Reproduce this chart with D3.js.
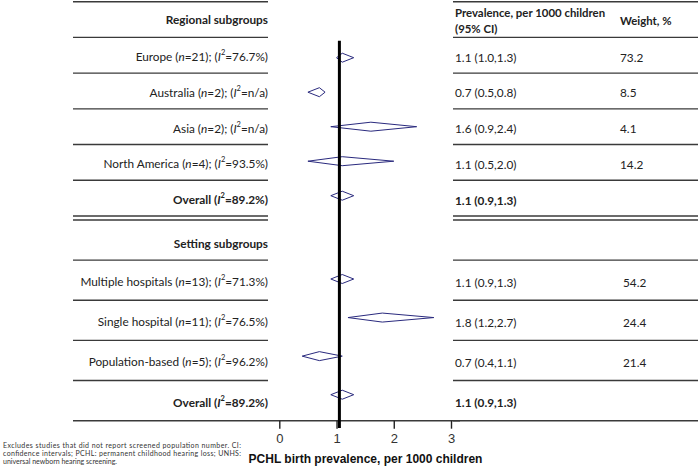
<!DOCTYPE html>
<html><head><meta charset="utf-8">
<script src="https://cdn.jsdelivr.net/npm/d3@7"></script>
<style>
html,body{margin:0;padding:0;background:#fff;}
svg{display:block;}
</style></head>
<body>
<script>
// ---- data ----
const regionalLabels = ["Europe", "Australia", "Asia", "North America"];
const regionalN = [21, 2, 2, 4];
const regionalI2 = ["76.7%", "n/a", "n/a", "93.5%"];
const regionalEst = [1.1, 0.7, 1.6, 1.1];
const regionalLo = [1.0, 0.5, 0.9, 0.5];
const regionalHi = [1.3, 0.8, 2.4, 2.0];
const regionalWeight = ["73.2", "8.5", "4.1", "14.2"];
const regionalOverall = {i2: "89.2%", est: 1.1, lo: 0.9, hi: 1.3};

const settingLabels = ["Multiple hospitals", "Single hospital", "Population-based"];
const settingN = [13, 11, 5];
const settingI2 = ["71.3%", "76.5%", "96.2%"];
const settingEst = [1.1, 1.8, 0.7];
const settingLo = [0.9, 1.2, 0.4];
const settingHi = [1.3, 2.7, 1.1];
const settingWeight = ["54.2", "24.4", "21.4"];
const settingOverall = {i2: "89.2%", est: 1.1, lo: 0.9, hi: 1.3};

const pooledLine = 1.05;
const xTicks = [0, 1, 2, 3];
const xTitle = "PCHL birth prevalence, per 1000 children";
const footnote = [
  "Excludes studies that did not report screened population number. CI:",
  "confidence intervals; PCHL: permanent childhood hearing loss; UNHS:",
  "universal newborn hearing screening."
];

// ---- layout ----
const W = 700, H = 470;
const svg = d3.select("body").append("svg").attr("width", W).attr("height", H);
const TF = "Lato, 'Open Sans', sans-serif";
const AF = "'Liberation Sans', Arial, sans-serif";
const FS = 11.8;
const lineCol = "#3a3a3a";
const textCol = "#222";
const diaCol = "#2a2a7e";

const leftX0 = 73, leftX1 = 268, rightX0 = 453, rightX1 = 698;
const colCI = 455, colW = 620;

const x = d3.scaleLinear().domain([0, 3]).range([279.3, 451]);

function buildGroup(labels, n, i2, est, lo, hi, w, overall) {
  const rows = labels.map((l, i) => ({key: l, label: l, n: n[i], i2: i2[i], est: est[i], lo: lo[i], hi: hi[i], w: w[i], type: "row"}));
  rows.push({key: "overall", i2: overall.i2, est: overall.est, lo: overall.lo, hi: overall.hi, w: "", type: "overall"});
  return rows;
}
const groups = [
  {title: "Regional subgroups", rows: buildGroup(regionalLabels, regionalN, regionalI2, regionalEst, regionalLo, regionalHi, regionalWeight, regionalOverall),
   bandRange: [1.7, 216], diaRange: [57.7, 195.7], showHeaderRight: true},
  {title: "Setting subgroups", rows: buildGroup(settingLabels, settingN, settingI2, settingEst, settingLo, settingHi, settingWeight, settingOverall),
   bandRange: [220, 420.7], diaRange: [279, 394.7], showHeaderRight: false}
];

function hline(y, x0, x1) {
  svg.append("line").attr("x1", x0).attr("x2", x1).attr("y1", y).attr("y2", y)
    .attr("stroke", lineCol).attr("stroke-width", 1.4);
}

function labelText(g, d, yy) {
  const t = g.append("text").attr("x", leftX1).attr("y", yy).attr("text-anchor", "end")
    .attr("dominant-baseline", "central").attr("font-family", TF).attr("font-size", FS).attr("fill", textCol);
  if (d.type === "row") {
    t.append("tspan").text(d.label + " (");
    t.append("tspan").attr("font-style", "italic").text("n");
    t.append("tspan").text("=" + d.n + "); (");
  } else {
    t.attr("font-weight", "bold");
    t.append("tspan").text("Overall (");
  }
  t.append("tspan").attr("font-style", "italic").text("I");
  t.append("tspan").attr("font-size", 7.5).attr("dy", -4).text("2");
  t.append("tspan").attr("dy", 4).text("=" + d.i2 + ")");
}

groups.forEach((grp, gi) => {
  const keys = ["header"].concat(grp.rows.map(r => r.key));
  const band = d3.scaleBand().domain(keys).range(grp.bandRange);
  const dia = d3.scalePoint().domain(grp.rows.map(r => r.key)).range(grp.diaRange);
  const g = svg.append("g");

  keys.forEach(k => {
    hline(band(k), leftX0, leftX1);
    hline(band(k), rightX0, rightX1);
  });
  hline(grp.bandRange[1], leftX0, leftX1);
  hline(grp.bandRange[1], rightX0, rightX1);

  g.append("text").attr("x", leftX1).attr("y", band("header") + band.bandwidth() / 2 + (gi === 1 ? 3 : 0))
    .attr("text-anchor", "end").attr("dominant-baseline", "central")
    .attr("font-family", TF).attr("font-size", FS).attr("font-weight", "bold").attr("fill", textCol)
    .text(grp.title);
  if (grp.showHeaderRight) {
    const hy = band("header") + band.bandwidth() / 2;
    g.append("text").attr("x", colCI).attr("y", hy - 7).attr("dominant-baseline", "central")
      .attr("font-family", TF).attr("font-size", 11.4).attr("font-weight", "bold").attr("fill", textCol)
      .text("Prevalence, per 1000 children");
    g.append("text").attr("x", colCI).attr("y", hy + 9).attr("dominant-baseline", "central")
      .attr("font-family", TF).attr("font-size", 11.4).attr("font-weight", "bold").attr("fill", textCol)
      .text("(95% CI)");
    g.append("text").attr("x", colW).attr("y", hy + 1).attr("dominant-baseline", "central")
      .attr("font-family", TF).attr("font-size", 11.4).attr("font-weight", "bold").attr("fill", textCol)
      .text("Weight, %");
  }

  grp.rows.forEach(d => {
    const yy = band(d.key) + band.bandwidth() / 2 + 1;
    labelText(g, d, yy);
    g.append("text").attr("x", colCI).attr("y", yy + 1).attr("dominant-baseline", "central")
      .attr("font-family", TF).attr("font-size", FS).attr("fill", textCol)
      .attr("font-weight", d.type === "overall" ? "bold" : null)
      .text(d3.format(".1f")(d.est) + " (" + d3.format(".1f")(d.lo) + "," + d3.format(".1f")(d.hi) + ")");
    if (d.w) {
      g.append("text").attr("x", colW + (gi === 1 ? 3 : 0)).attr("y", yy + 1).attr("dominant-baseline", "central")
        .attr("font-family", TF).attr("font-size", FS).attr("fill", textCol).text(d.w);
    }
  });

  const hh = 4.5;
  g.selectAll("path.dia").data(grp.rows).enter().append("path")
    .attr("d", d => {
      const cy = dia(d.key);
      return `M${x(d.lo)},${cy}L${x(d.est)},${cy - hh}L${x(d.hi)},${cy}L${x(d.est)},${cy + hh}Z`;
    })
    .attr("fill", "none").attr("stroke", diaCol).attr("stroke-width", 1);
});

// axis
const axisY = 420.7;
const ax = svg.append("g").attr("transform", `translate(0,${axisY})`)
  .call(d3.axisBottom(x).tickValues(xTicks).tickFormat(d3.format("d")).tickSize(8).tickSizeOuter(0));
ax.select(".domain").attr("stroke", lineCol).attr("stroke-width", 1.4)
  .attr("d", `M${leftX1},0H${rightX0 + 7}`);
ax.selectAll(".tick line").attr("stroke", "#222").attr("stroke-width", 1.4);
ax.selectAll(".tick text").attr("font-family", AF).attr("font-size", 13).attr("fill", "#333").attr("dy", "0.9em");

// pooled vertical line
svg.append("line").attr("x1", x(pooledLine)).attr("x2", x(pooledLine))
  .attr("y1", 40.7).attr("y2", 428).attr("stroke", "#000").attr("stroke-width", 3);

// axis title
svg.append("text").attr("x", 365.5).attr("y", 459).attr("text-anchor", "middle").attr("dominant-baseline", "central")
  .attr("font-family", AF).attr("font-size", 12).attr("font-weight", "bold").attr("fill", "#111").text(xTitle);

// footnote
footnote.forEach((s, i) => {
  const t = svg.append("text").attr("x", 3).attr("y", 445 + i * 8).attr("dominant-baseline", "central")
    .attr("font-family", TF).attr("font-size", 7).attr("fill", "#333").text(s);
  if (i < footnote.length - 1) t.attr("textLength", 238).attr("lengthAdjust", "spacing");
});
</script>
</body></html>
